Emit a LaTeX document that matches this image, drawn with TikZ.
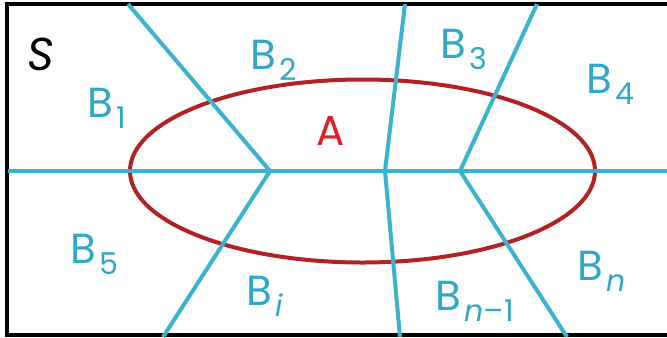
\documentclass[tikz,border=0pt]{standalone}
\usepackage{fontspec}
\setmainfont{Poppins}
\definecolor{part}{RGB}{58,180,206}
\definecolor{partlabel}{RGB}{46,168,198}
\definecolor{event}{RGB}{178,34,36}
\definecolor{eventlabel}{RGB}{222,30,40}
\newcommand{\blab}[1]{B\kern1.5pt\raisebox{-0.5ex}{\fontsize{15}{15}\selectfont #1}}

\begin{document}
\begin{tikzpicture}[x=0.5pt, y=-0.5pt, thick,
    cut/.style={draw=part, line width=2pt},
    lab/.style={text=partlabel, font=\fontsize{21}{21}\selectfont, anchor=base west, inner sep=0pt}]
    \useasboundingbox (0,0) rectangle (667,337);
    % sample space
    \draw[line width=1.9pt] (667,4) -- (7,4) -- (7,335) -- (667,335);
    \coordinate (west) at (8,171);
    \coordinate (east) at (667,171);
    \coordinate (top1) at (128,4);
    \coordinate (j1) at (270,171);
    \coordinate (bot1) at (163,337);
    \coordinate (top2) at (405,4);
    \coordinate (j2) at (385,171);
    \coordinate (bot2) at (400,337);
    \coordinate (top3) at (537,4);
    \coordinate (j3) at (460,171);
    \coordinate (bot3) at (567,337);
    % event A
    \draw[event, line width=2pt] (362.5,171) ellipse [x radius=232.5, y radius=91.5];
    % partition
    \draw[cut] (west) -- (east);
    \draw[cut] (top1) -- (j1) -- (bot1);
    \draw[cut] (top2) -- (j2) -- (bot2);
    \draw[cut] (top3) -- (j3) -- (bot3);
    \node[anchor=base west, inner sep=0pt, font=\fontsize{23}{23}\selectfont\itshape] (s) at (27,70) {S};
    \node[lab, text=eventlabel] (a) at (316,145) {A};
    \node[lab] (b1) at (87,117) {\blab{1}};
    \node[lab] (b2) at (250,69) {\blab{2}};
    \node[lab] (b3) at (440,58) {\blab{3}};
    \node[lab] (b4) at (586,93) {\blab{4}};
    \node[lab] (b5) at (70,263) {\blab{5}};
    \node[lab] (bi) at (246,305) {\blab{\itshape i}};
    \node[lab] (bn1) at (435,310) {\blab{{\itshape n}--1}};
    \node[lab] (bn) at (577,280) {\blab{\itshape n}};
\end{tikzpicture}
\end{document}
